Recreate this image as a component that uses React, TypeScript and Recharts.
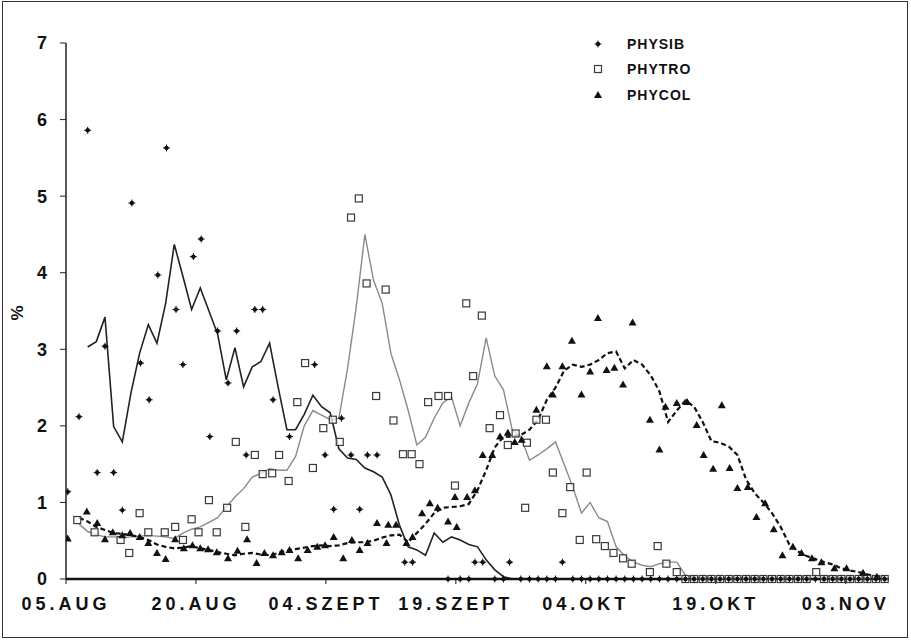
import {
  ComposedChart,
  Line,
  Scatter,
  XAxis,
  YAxis,
} from "recharts";

const FONT = '"Liberation Sans", Arial, sans-serif';

const xTicks = [0, 15, 30, 45, 60, 75, 90];
const xTickLabels = ["05.AUG", "20.AUG", "04.SZEPT", "19.SZEPT", "04.OKT", "19.OKT", "03.NOV"];
const yTicks = [0, 1, 2, 3, 4, 5, 6, 7];

// days counted from 05.AUG
const sibDays = [0.2, 1.5, 2.5, 3.6, 4.5, 5.5, 6.5, 7.6, 8.6, 9.6, 10.6, 11.6, 12.7, 13.5, 14.7, 15.6, 16.6, 17.5, 18.7, 19.7, 20.8, 21.8, 22.7, 23.9, 25.8, 28.7, 29.9, 30.9, 31.8, 32.9, 33.9, 34.8, 35.9, 39.1, 40.0, 44.1, 47.2, 48.1, 51.2, 57.3];
const sibValues = [1.14, 2.12, 5.86, 1.39, 3.04, 1.39, 0.9, 4.91, 2.82, 2.34, 3.97, 5.63, 3.52, 2.8, 4.21, 4.44, 1.86, 3.24, 2.56, 3.24, 1.62, 3.52, 3.52, 2.34, 1.86, 2.8, 1.62, 0.91, 2.1, 1.62, 0.91, 1.62, 1.62, 0.22, 0.22, 0, 0.22, 0.22, 0.22, 0.22];
const sibZeroDays = [45.5, 46.5, 49.5, 50.5, 52.5, 53.5, 54.5, 55.5, 56.5, 58.5, 59.5, 60.5, 61.5, 62.5, 63.5, 64.5, 65.5, 66.5, 67.5, 68.5, 69.5, 70.5, 71.5, 72.5, 73.5, 74.5, 75.5, 76.5, 77.5, 78.5, 79.5, 80.5, 81.5, 82.5, 83.5, 84.5, 85.5, 86.5, 87.5, 88.5, 89.5, 90.5, 91.5, 92.5, 93.5, 94.5];

const troDays = [1.3, 3.3, 6.3, 7.3, 8.5, 9.5, 11.4, 12.6, 13.5, 14.5, 15.3, 16.5, 17.4, 18.6, 19.6, 20.7, 21.8, 22.7, 23.8, 24.6, 25.7, 26.7, 27.6, 28.5, 29.7, 30.8, 31.6, 32.9, 33.8, 34.7, 35.8, 36.9, 37.8, 38.9, 39.9, 40.8, 41.8, 43.0, 44.1, 44.9, 46.2, 47.0, 48.0, 48.9, 50.1, 51.0, 51.9, 53.0, 53.2, 54.3, 55.4, 56.2, 57.3, 58.2, 59.3, 60.1, 61.2, 62.2, 63.2, 64.3, 65.3, 67.4, 68.3, 69.3, 70.5, 86.6];
const troValues = [0.77, 0.61, 0.51, 0.34, 0.86, 0.61, 0.61, 0.68, 0.51, 0.78, 0.61, 1.03, 0.61, 0.93, 1.79, 0.68, 1.62, 1.37, 1.38, 1.62, 1.28, 2.31, 2.82, 1.45, 1.97, 2.08, 1.79, 4.72, 4.97, 3.86, 2.39, 3.78, 2.07, 1.63, 1.63, 1.5, 2.31, 2.39, 2.39, 1.22, 3.6, 2.65, 3.44, 1.97, 2.14, 1.75, 1.9, 0.93, 1.78, 2.08, 2.08, 1.39, 0.86, 1.2, 0.51, 1.39, 0.52, 0.43, 0.34, 0.27, 0.2, 0.09, 0.43, 0.2, 0.09, 0.09];
const troZeroDays = [71.5, 72.5, 73.5, 74.5, 75.5, 76.5, 77.5, 78.5, 79.5, 80.5, 81.5, 82.5, 83.5, 84.5, 85.5, 87.5, 88.5, 89.5, 90.5, 91.5, 92.5, 93.5, 94.5];

const colDays = [0.2, 2.4, 3.6, 4.5, 5.4, 6.5, 7.4, 8.5, 9.5, 10.5, 11.5, 12.6, 13.6, 14.6, 15.5, 16.4, 17.4, 18.7, 19.8, 20.9, 22.0, 22.9, 23.9, 24.9, 25.8, 26.8, 27.9, 29.0, 29.9, 30.9, 32.0, 33.0, 33.9, 34.8, 35.9, 37.0, 37.2, 38.1, 39.3, 40.0, 41.1, 42.0, 42.9, 44.1, 44.9, 45.1, 46.3, 47.2, 48.1, 49.2, 50.1, 51.0, 51.8, 52.6, 54.3, 55.5, 56.2, 57.3, 58.4, 59.5, 60.5, 61.4, 62.4, 63.3, 64.3, 65.4, 67.4, 68.5, 69.2, 70.5, 71.7, 72.8, 73.6, 74.7, 75.7, 76.6, 77.5, 78.7, 79.7, 80.7, 81.7, 82.7, 83.9, 84.9, 86.1, 87.2, 88.7, 90.1, 92.0, 93.6];
const colValues = [0.53, 0.88, 0.73, 0.52, 0.61, 0.57, 0.6, 0.55, 0.47, 0.34, 0.26, 0.52, 0.4, 0.44, 0.4, 0.39, 0.35, 0.27, 0.37, 0.52, 0.21, 0.34, 0.31, 0.35, 0.38, 0.27, 0.38, 0.42, 0.44, 0.55, 0.27, 0.51, 0.38, 0.47, 0.73, 0.47, 0.71, 0.71, 0.47, 0.55, 0.86, 0.99, 0.93, 0.75, 1.07, 0.68, 1.07, 1.16, 1.62, 1.62, 1.86, 1.91, 1.79, 1.82, 2.21, 2.78, 2.41, 2.78, 3.11, 2.41, 2.71, 3.41, 2.73, 2.76, 2.54, 3.35, 2.08, 1.69, 2.25, 2.3, 2.31, 2.01, 1.62, 1.44, 2.27, 1.45, 1.19, 1.2, 0.81, 0.99, 0.65, 0.31, 0.42, 0.34, 0.27, 0.22, 0.14, 0.14, 0.08, 0.03];

// running means, one value per day from 1.5 to 94.5
const lineDays = Array.from({ length: 94 }, (_, i) => i + 1.5);
const sibLine = [null, 3.03, 3.1, 3.42, 1.99, 1.79, 2.43, 2.95, 3.32, 3.08, 3.6, 4.37, 3.95, 3.52, 3.8, 3.5, 3.2, 2.6, 3.02, 2.51, 2.77, 2.84, 3.08, 2.5, 1.95, 1.95, 2.15, 2.4, 2.25, 2.17, 1.7, 1.58, 1.56, 1.45, 1.4, 1.33, 1.1, 0.7, 0.42, 0.38, 0.31, 0.6, 0.48, 0.55, 0.51, 0.45, 0.42, 0.25, 0.12, 0.03, 0, 0, 0, 0, 0, 0, 0, 0, 0, 0, 0, 0, 0, 0, 0, 0, 0, 0, 0, 0, 0, 0, 0, 0, 0, 0, 0, 0, 0, 0, 0, 0, 0, 0, 0, 0, 0, 0, 0, 0, 0, 0, 0, 0];
const troLine = [0.72, 0.62, 0.58, 0.55, 0.55, 0.54, 0.55, 0.56, 0.57, 0.56, 0.55, 0.53, 0.6, 0.65, 0.68, 0.74, 0.8, 0.94, 1.07, 1.18, 1.33, 1.38, 1.44, 1.42, 1.42, 1.6, 2.0, 2.2, 2.14, 2.08, 2.1, 2.75, 3.55, 4.5, 3.9, 3.6, 2.95, 2.6, 2.2, 1.75, 1.85, 2.1, 2.3, 2.38, 2.0, 2.3, 2.55, 3.15, 2.65, 2.47, 1.95, 1.86, 1.55, 1.62, 1.7, 1.79, 1.5, 1.2, 0.86, 1.0, 0.8, 0.75, 0.42, 0.3, 0.22, 0.18, 0.16, 0.2, 0.22, 0.22, 0.05, 0.02, 0.02, 0.02, 0.02, 0.02, 0.02, 0.02, 0.02, 0.02, 0.02, 0.02, 0.02, 0.02, 0.04, 0.05, 0.04, 0.03, 0.02, 0.02, 0.02, 0.02, 0.02, 0.02];
const colLine = [0.8, 0.75, 0.68, 0.64, 0.6, 0.59, 0.57, 0.55, 0.51, 0.45, 0.42, 0.4, 0.41, 0.43, 0.4, 0.38, 0.35, 0.33, 0.31, 0.33, 0.34, 0.32, 0.31, 0.34, 0.37, 0.39, 0.41, 0.43, 0.44, 0.43, 0.44, 0.47, 0.48, 0.48, 0.5, 0.54, 0.57, 0.58, 0.48, 0.6, 0.72, 0.86, 0.93, 0.94, 0.95, 0.98, 1.16, 1.42, 1.72, 1.86, 1.86, 1.88, 1.95, 2.08, 2.34, 2.5, 2.72, 2.8, 2.77, 2.8, 2.86, 2.95, 2.97, 2.75, 2.86, 2.8, 2.66, 2.45, 2.05, 2.2, 2.33, 2.25, 2.05, 1.8, 1.78, 1.73, 1.62, 1.3, 1.12, 1.0, 0.86, 0.68, 0.45, 0.36, 0.3, 0.26, 0.22, 0.19, 0.14, 0.11, 0.09, 0.06, 0.03, 0.02];

const zip = (days: number[], values: (number | null)[]) =>
  days.map((day, i) => ({ day, value: values[i] }));

const sibPoints = [...zip(sibDays, sibValues), ...zip(sibZeroDays, sibZeroDays.map(() => 0))];
const troPoints = [...zip(troDays, troValues), ...zip(troZeroDays, troZeroDays.map(() => 0))];
const colPoints = zip(colDays, colValues);

const StarDot = (props: any) => {
  const { cx, cy } = props;
  if (cx == null || cy == null) return null;
  return (
    <g>
      <circle cx={cx} cy={cy} r={2.2} fill="#111" />
      <path
        d={`M${cx - 3.5},${cy}H${cx + 3.5}M${cx},${cy - 3.5}V${cy + 3.5}`}
        stroke="#111"
        strokeWidth={1}
      />
    </g>
  );
};

const SquareDot = (props: any) => {
  const { cx, cy } = props;
  if (cx == null || cy == null) return null;
  return (
    <rect
      x={cx - 3.5}
      y={cy - 3.5}
      width={7}
      height={7}
      fill="#fff"
      fillOpacity={0.7}
      stroke="#3a3a3a"
      strokeWidth={1.2}
    />
  );
};

const TriangleDot = (props: any) => {
  const { cx, cy } = props;
  if (cx == null || cy == null) return null;
  return <path d={`M${cx},${cy - 4}L${cx + 4},${cy + 3}L${cx - 4},${cy + 3}Z`} fill="#111" />;
};

const legendItems = [
  { name: "PHYSIB", Icon: StarDot },
  { name: "PHYTRO", Icon: SquareDot },
  { name: "PHYCOL", Icon: TriangleDot },
];

function LegendBox() {
  return (
    <div
      style={{
        position: "absolute",
        left: 590,
        top: 31,
        fontFamily: FONT,
        fontWeight: "bold",
        fontSize: 14,
        color: "#111",
        letterSpacing: 1,
      }}
    >
      {legendItems.map(({ name, Icon }) => (
        <div key={name} style={{ display: "flex", alignItems: "center", height: 25.5 }}>
          <svg width={16} height={16}>
            <Icon cx={8} cy={8} />
          </svg>
          <span style={{ marginLeft: 21 }}>{name}</span>
        </div>
      ))}
    </div>
  );
}

function PercentLabel(props: any) {
  const { viewBox } = props;
  const x = (viewBox?.x ?? 0) + 17;
  const y = (viewBox?.y ?? 43) + (viewBox?.height ?? 536) / 2 + 2;
  return (
    <text
      x={x}
      y={y}
      transform={`rotate(-90 ${x} ${y})`}
      textAnchor="middle"
      dominantBaseline="central"
      fontFamily={FONT}
      fontWeight="bold"
      fontSize={17}
      fill="#111"
    >
      %
    </text>
  );
}

export default function App() {
  return (
    <div style={{ position: "fixed", left: 0, top: 0, width: 911, height: 641, background: "#fff" }}>
      <div
        style={{
          position: "absolute",
          left: 2,
          top: 1,
          width: 906,
          height: 637,
          border: "1.5px solid #333",
          boxSizing: "border-box",
        }}
      />
      <div style={{ position: "absolute", left: 0, top: 0 }}>
        <ComposedChart width={911} height={641} margin={{ top: 43, right: 22, bottom: 22, left: 0 }}>
          <XAxis
            type="number"
            dataKey="day"
            domain={[0, 95]}
            ticks={xTicks}
            tickFormatter={(v: number) => xTickLabels[xTicks.indexOf(v)] ?? ""}
            height={40}
            axisLine={{ stroke: "#111", strokeWidth: 2.5 }}
            tickLine={{ stroke: "#111", strokeWidth: 1 }}
            tickSize={5}
            tickMargin={13}
            tick={{ fontFamily: FONT, fontWeight: "bold", fontSize: 18, fill: "#111", letterSpacing: 4 }}
            interval={0}
            allowDataOverflow
          />
          <YAxis
            type="number"
            domain={[0, 7]}
            ticks={yTicks}
            width={66}
            axisLine={{ stroke: "#222", strokeWidth: 1.5 }}
            tickLine={{ stroke: "#222", strokeWidth: 1 }}
            tickSize={6}
            tickMargin={13}
            tick={{ fontFamily: FONT, fontWeight: "bold", fontSize: 18, fill: "#111" }}
            interval={0}
            label={<PercentLabel />}
          />
          <Line
            data={zip(lineDays, troLine)}
            dataKey="value"
            stroke="#8a8a8a"
            strokeWidth={1.4}
            dot={false}
            legendType="none"
            isAnimationActive={false}
          />
          <Line
            data={zip(lineDays, sibLine)}
            dataKey="value"
            stroke="#222"
            strokeWidth={1.6}
            dot={false}
            legendType="none"
            isAnimationActive={false}
          />
          <Line
            data={zip(lineDays, colLine)}
            dataKey="value"
            stroke="#111"
            strokeWidth={2.2}
            strokeDasharray="5 3"
            dot={false}
            legendType="none"
            isAnimationActive={false}
          />
          <Scatter name="PHYTRO" data={troPoints} dataKey="value" shape={SquareDot} isAnimationActive={false} />
          <Scatter name="PHYSIB" data={sibPoints} dataKey="value" shape={StarDot} isAnimationActive={false} />
          <Scatter name="PHYCOL" data={colPoints} dataKey="value" shape={TriangleDot} isAnimationActive={false} />
        </ComposedChart>
      </div>
      <LegendBox />
    </div>
  );
}
